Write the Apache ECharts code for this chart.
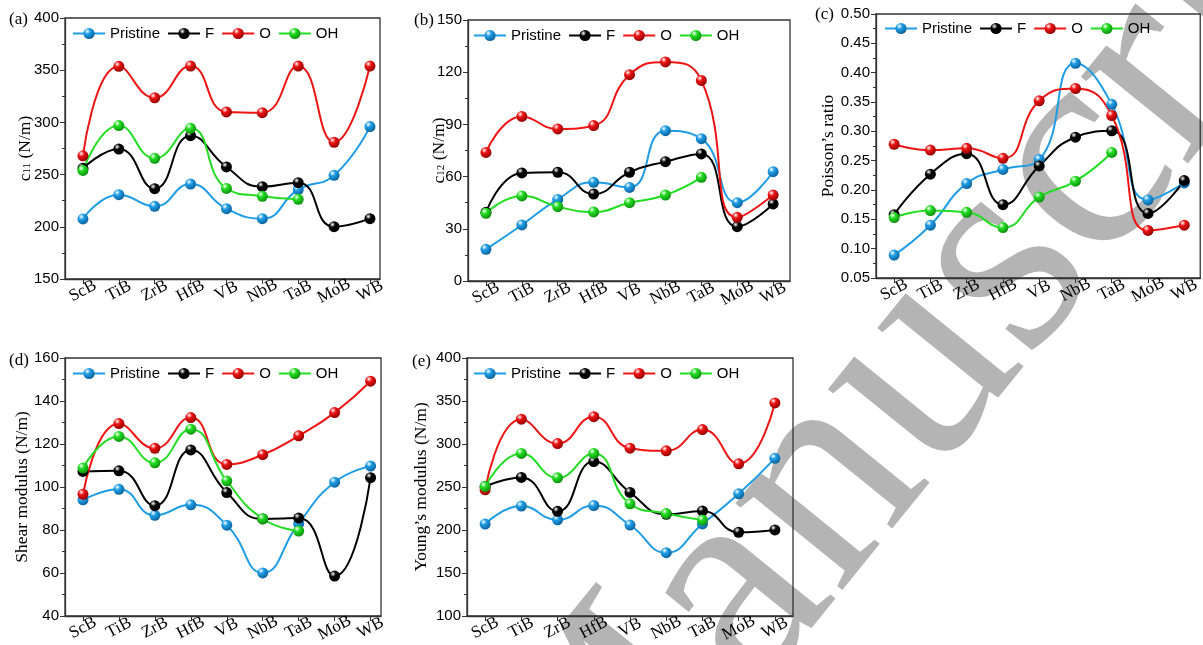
<!DOCTYPE html>
<html>
<head>
<meta charset="utf-8">
<script src="https://cdn.jsdelivr.net/npm/echarts@6/dist/echarts.min.js"></script>
<style>
	html, body { margin: 0; background: #fff; }
	#chart { width: 1203px; height: 645px; }
</style>
</head>
<body>
<div id="chart"></div>
<script>
const cats = [ 'ScB', 'TiB', 'ZrB', 'HfB', 'VB', 'NbB', 'TaB', 'MoB', 'WB' ]
const names = [ 'Pristine', 'F', 'O', 'OH' ]

// (a) c11
const c11Pristine = [ 207.5, 230.8, 219.6, 241, 217.4, 207.8, 235.6, 249.3, 296 ]
const c11F = [ 256, 274.5, 236.5, 287.3, 257.3, 238.4, 242.3, 200.1, 207.8 ]
const c11O = [ 268, 353.7, 323.6, 354, 310, 309.3, 354, 281, 354 ]
const c11OH = [ 254, 297, 265.6, 294.3, 236.8, 229.2, 226.3 ]

// (b) c12
const c12Pristine = [ 18.2, 32.2, 46.9, 56.7, 53.8, 86.4, 81.8, 45, 62.8 ]
const c12F = [ 39.5, 62.1, 62.5, 50, 62.5, 68.6, 73, 31.2, 44.3 ]
const c12O = [ 73.9, 94.6, 87.4, 89.3, 118.6, 125.9, 115.3, 36.6, 49.4 ]
const c12OH = [ 38.9, 48.9, 42.7, 39.7, 45, 49.4, 59.6 ]

// (c) Poisson's ratio
const nuPristine = [ 0.089, 0.140, 0.211, 0.235, 0.252, 0.416, 0.346, 0.183, 0.212 ]
const nuF = [ 0.158, 0.227, 0.262, 0.175, 0.241, 0.290, 0.301, 0.160, 0.216 ]
const nuO = [ 0.278, 0.268, 0.271, 0.254, 0.352, 0.373, 0.327, 0.131, 0.140 ]
const nuOH = [ 0.153, 0.165, 0.162, 0.136, 0.188, 0.215, 0.264 ]

// (d) shear modulus
const gPristine = [ 94, 98.9, 86.8, 91.7, 82.2, 60, 83, 102.2, 109.7 ]
const gF = [ 107.2, 107.5, 91.3, 117.2, 97.4, 85.1, 85.5, 58.5, 104.3 ]
const gO = [ 96.6, 129.5, 118, 132.3, 110.5, 115, 123.8, 134.6, 149.2 ]
const gOH = [ 108.8, 123.5, 111.2, 126.9, 102.8, 85.2, 79.5 ]

// (e) Young's modulus
const ePristine = [ 206.8, 227.7, 211.7, 228.4, 205.7, 173.5, 207, 242, 283.3 ]
const eF = [ 250.4, 261, 221.6, 279.5, 243.6, 218.2, 222, 197.3, 200 ]
const eO = [ 246.6, 328.8, 300.4, 331.8, 295.1, 292, 316.7, 276.9, 347.7 ]
const eOH = [ 250.4, 289, 260.6, 289, 230.3, 219, 211.4 ]

const serif = '"Liberation Serif", "Times New Roman", serif'
const sans = '"Liberation Sans", Arial, sans-serif'

const colors = { Pristine: '#1e9de6', F: '#000000', O: '#ee1414', OH: '#22dd22' }
const darks = { Pristine: '#0b5f96', F: '#000000', O: '#8c0000', OH: '#0d8a0d' }

const ball = (n) => new echarts.graphic.RadialGradient(0.35, 0.3, 0.75, [
	{ offset: 0, color: '#ffffff' },
	{ offset: 0.35, color: colors[n] },
	{ offset: 1, color: darks[n] }
])

const panels = [
	{
		tag: '(a)', tagPos: [ 9, 11 ],
		name: '{c|c}{s|11} (N/m)', nameGap: 40,
		grid: { left: 65, top: 18, width: 315, height: 261 }, xMax: 8.28,
		min: 150, max: 400, interval: 50,
		legend: [ 72, 26 ],
		values: { Pristine: c11Pristine, F: c11F, O: c11O, OH: c11OH }
	},
	{
		tag: '(b)', tagPos: [ 414, 12 ],
		name: '{c|c}{s|12} (N/m)', nameGap: 29,
		grid: { left: 468, top: 20, width: 322, height: 261 }, xMax: 8.47,
		min: 0, max: 150, interval: 30,
		legend: [ 473, 28 ],
		values: { Pristine: c12Pristine, F: c12F, O: c12O, OH: c12OH }
	},
	{
		tag: '(c)', tagPos: [ 815, 6 ],
		name: 'Poisson\u2019s ratio', nameGap: 48, fmt: (v) => v.toFixed(2),
		grid: { left: 876, top: 14, width: 325, height: 264 }, xMax: 8.44,
		min: 0.05, max: 0.5, interval: 0.05,
		legend: [ 884, 21 ],
		values: { Pristine: nuPristine, F: nuF, O: nuO, OH: nuOH }
	},
	{
		tag: '(d)', tagPos: [ 9, 352 ],
		name: 'Shear modulus (N/m)', nameGap: 43,
		grid: { left: 65, top: 358, width: 316, height: 261 }, xMax: 8.29,
		min: 40, max: 160, interval: 20,
		legend: [ 72, 366 ],
		values: { Pristine: gPristine, F: gF, O: gO, OH: gOH }
	},
	{
		tag: '(e)', tagPos: [ 412, 353 ],
		name: 'Young\u2019s modulus (N/m)', nameGap: 46,
		grid: { left: 467, top: 358, width: 326, height: 264 }, xMax: 8.5,
		min: 100, max: 400, interval: 50,
		legend: [ 473, 366 ],
		values: { Pristine: ePristine, F: eF, O: eO, OH: eOH }
	}
]

const idx = cats.map((c, i) => i)

const option = {
	backgroundColor: '#fff',
	animation: false,
	title: panels.map((p) => ({
		text: p.tag, left: p.tagPos[0], top: p.tagPos[1], padding: 0,
		textStyle: { fontFamily: serif, fontSize: 17, fontWeight: 'normal', color: '#000' }
	})),
	grid: panels.map((p) => ({
		...p.grid, show: true, borderColor: '#333', borderWidth: 1.3, backgroundColor: 'transparent'
	})),
	legend: panels.map((p) => ({
		left: p.legend[0], top: p.legend[1], padding: 0,
		data: names, itemWidth: 32, itemHeight: 14, itemGap: 7,
		textStyle: { fontFamily: sans, fontSize: 15, color: '#000' }
	})),
	xAxis: panels.map((p, i) => ({
		type: 'value', gridIndex: i, min: -0.5, max: p.xMax,
		axisLine: { onZero: false, lineStyle: { color: '#333', width: 1.3 } },
		axisTick: { customValues: idx, length: 5, lineStyle: { color: '#333' } },
		axisLabel: {
			customValues: idx, formatter: (v) => cats[Math.round(v)],
			rotate: 28, align: 'center', verticalAlign: 'middle', margin: 12,
			fontFamily: serif, fontSize: 17, color: '#000'
		},
		splitLine: { show: false }
	})),
	yAxis: panels.map((p, i) => ({
		type: 'value', gridIndex: i, min: p.min, max: p.max, interval: p.interval,
		name: p.name, nameLocation: 'middle', nameGap: p.nameGap, nameMoveOverlap: false,
		nameTextStyle: {
			fontFamily: serif, fontSize: 17.5, color: '#000', verticalAlign: 'middle',
			rich: {
				c: { fontFamily: serif, fontSize: 17.5, color: '#000' },
				s: { fontFamily: serif, fontSize: 11, color: '#000', padding: [ 5, 0, 0, 0 ] }
			}
		},
		axisLine: { show: true, onZero: false, lineStyle: { color: '#333', width: 1.3 } },
		axisTick: { show: true, length: 5, lineStyle: { color: '#333' } },
		minorTick: { show: true, splitNumber: 2, length: 3, lineStyle: { color: '#333' } },
		axisLabel: {
			formatter: p.fmt || ((v) => String(Math.round(v))), margin: 6,
			fontFamily: sans, fontSize: 15, color: '#000'
		},
		splitLine: { show: false }
	})),
	graphic: [ {
		type: 'text', x: -235, y: 1795, rotation: 0.89, z: -10, silent: true,
		style: {
			text: 'Accepted Manuscript', fontFamily: serif, fontSize: 300,
			fill: '#b4b4b4', align: 'left', verticalAlign: 'middle'
		}
	} ],
	series: []
}

panels.forEach((p, i) => {
	names.forEach((n) => option.series.push({
		type: 'line', name: n, xAxisIndex: i, yAxisIndex: i,
		data: p.values[n].map((v, k) => [ k, v ]),
		smooth: 0.5, symbol: 'circle', symbolSize: 11,
		lineStyle: { width: 2, color: colors[n] },
		itemStyle: { color: ball(n), borderWidth: 0 }
	}))
})

const chart = echarts.init(document.getElementById('chart'), null, { renderer: 'canvas' })
chart.setOption(option)
</script>
</body>
</html>
